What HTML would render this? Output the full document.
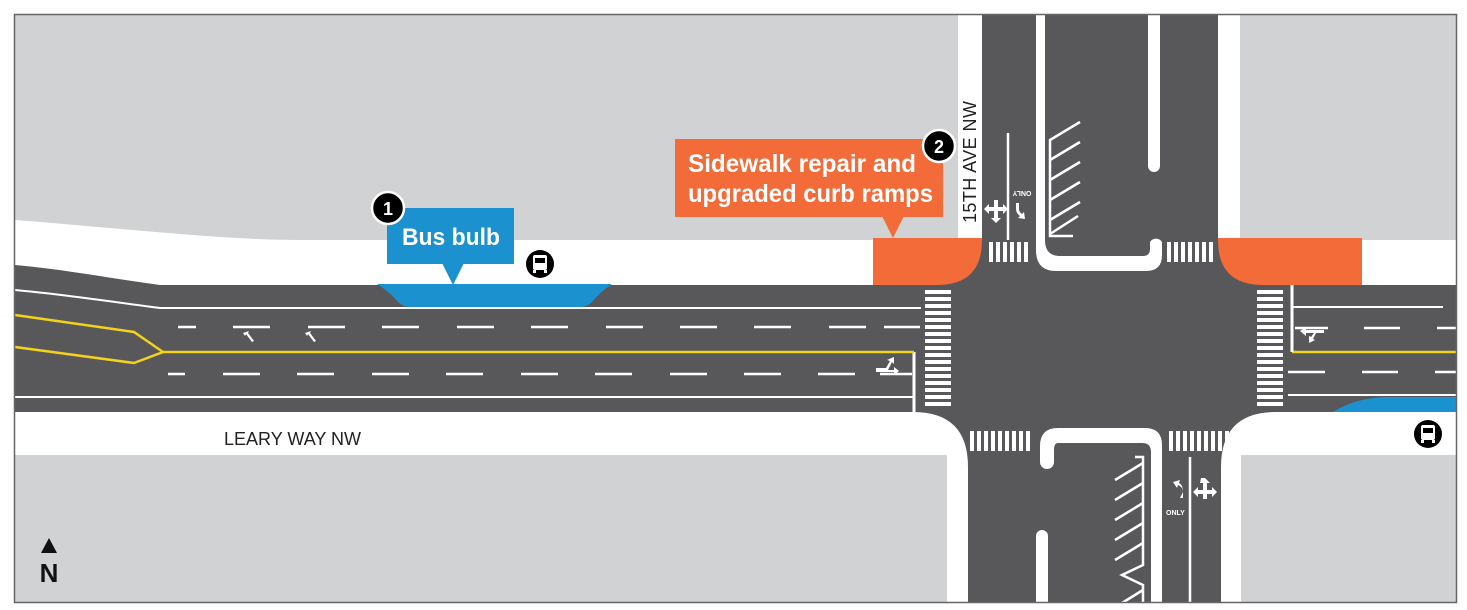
<!DOCTYPE html>
<html><head><meta charset="utf-8"><style>
html,body{margin:0;padding:0;background:#fff;width:1467px;height:610px;overflow:hidden}
svg{display:block}
text{font-family:"Liberation Sans",sans-serif}
</style></head><body>
<svg width="1467" height="610" viewBox="0 0 1467 610" xmlns="http://www.w3.org/2000/svg">
<rect x="0" y="0" width="1467" height="610" fill="#fff"/>
<rect x="15" y="14" width="1442" height="589" fill="#d1d2d3"/>
<rect x="15" y="240" width="1442" height="215" fill="#fff"/>
<rect x="947" y="14" width="294" height="589" fill="#fff"/>
<path d="M15,14 H958 V240 H300 C220,240 120,228 15,220 Z" fill="#d1d2d3"/>
<path d="M15,220 C120,228 220,240 300,240 H15 Z" fill="#fff"/>
<rect x="958" y="14" width="24" height="226" fill="#fff"/>
<rect x="1218" y="14" width="22" height="226" fill="#fff"/>
<rect x="1240" y="14" width="217" height="226" fill="#d1d2d3"/>
<path d="M15,455 H917 Q947,455 947,485 V603 H15 Z" fill="#d1d2d3"/>
<path d="M1457,455 H1271 Q1241,455 1241,485 V603 H1457 Z" fill="#d1d2d3"/>
<rect x="873" y="238" width="110" height="47" fill="#f26b38"/>
<rect x="1217" y="238" width="145" height="47" fill="#f26b38"/>
<path d="M15,265 C70,270 120,280 160,285 H937 Q982,285 982,240 V14 H1218 V240 Q1218,285 1263,285 H1457 V412 H1276 Q1221,412 1221,467 V603 H968 V467 Q968,412 913,412 H15 Z" fill="#58585a"/>
<path d="M377,284 H612 Q600,292 592,302 Q587,307 580,307 H410 Q403,307 398,302 Q390,292 377,284 Z" fill="#1c91d0"/>
<path d="M1333,412 Q1355,398 1385,397 H1457 V412 Z" fill="#1c91d0"/>
<g stroke="#fff" fill="none">
<path d="M15,290 C70,295 120,303 160,308 H921" stroke-width="2"/>
<line x1="15" y1="397" x2="914" y2="397" stroke-width="2"/>
<line x1="914" y1="352" x2="914" y2="412" stroke-width="3"/>
<path d="M178,327 H196 M233,327 H270 M308,327 H345 M382,327 H419 M457,327 H494 M531,327 H568 M606,327 H643 M680,327 H717 M754,327 H791 M829,327 H866 M884,327 H920" stroke-width="2.5"/>
<path d="M168,374 H185 M223,374 H260 M297,374 H334 M372,374 H409 M446,374 H483 M521,374 H558 M595,374 H632 M670,374 H707 M744,374 H781 M818,374 H855 M880,374 H912" stroke-width="2.5"/>
</g>
<g stroke="#f2d21b" fill="none" stroke-width="2.5">
<path d="M15,315 L134,332 L163,352 L134,363 L15,347"/>
<line x1="163" y1="352" x2="914" y2="352"/>
<line x1="1292" y1="352" x2="1457" y2="352"/>
</g>
<g fill="#fff">
<path d="M243,333 l6,-2 l-1,2 l6,8 l-2,1 l-6,-8 l-1,2 z"/>
<path d="M305,333 l6,-2 l-1,2 l6,8 l-2,1 l-6,-8 l-1,2 z"/>
<path d="M876,368 h10 l4,-7 l-3,-1 l7,-3 l0,7 l-2,-2 l-4,8 h6 v-3 l5,4 l-5,4 v-3 h-18 z"/>
</g>
<g stroke="#fff" fill="none">
<line x1="1292" y1="285" x2="1292" y2="352" stroke-width="3"/>
<line x1="1292" y1="307" x2="1443" y2="307" stroke-width="2"/>
<path d="M1295,328 H1328 M1364,328 H1400 M1437,328 H1457" stroke-width="2.5"/>
<path d="M1288,372 H1325 M1362,372 H1398 M1435,372 H1457" stroke-width="2.5"/>
<line x1="1288" y1="395" x2="1457" y2="395" stroke-width="2"/>
</g>
<path fill="#fff" d="M1300,331 l6,-4 v3 h18 v3 h-8 l-3,6 l2,1 l-6,3 l0,-7 l2,1 l3,-4 h-8 v3 z"/>
<g fill="#fff">
<g id="cwv">
<rect x="925" y="290" width="26" height="4"/><rect x="925" y="297" width="26" height="4"/><rect x="925" y="304" width="26" height="4"/><rect x="925" y="311" width="26" height="4"/><rect x="925" y="318" width="26" height="4"/><rect x="925" y="325" width="26" height="4"/><rect x="925" y="332" width="26" height="4"/><rect x="925" y="339" width="26" height="4"/><rect x="925" y="346" width="26" height="4"/><rect x="925" y="353" width="26" height="4"/><rect x="925" y="360" width="26" height="4"/><rect x="925" y="367" width="26" height="4"/><rect x="925" y="374" width="26" height="4"/><rect x="925" y="381" width="26" height="4"/><rect x="925" y="388" width="26" height="4"/><rect x="925" y="395" width="26" height="4"/><rect x="925" y="402" width="26" height="4"/>
</g>
<use href="#cwv" x="332"/>
<rect x="989" y="242" width="4" height="20"/><rect x="996" y="242" width="4" height="20"/><rect x="1003" y="242" width="4" height="20"/><rect x="1010" y="242" width="4" height="20"/><rect x="1017" y="242" width="4" height="20"/><rect x="1024" y="242" width="4" height="20"/>
<rect x="1167" y="242" width="4" height="20"/><rect x="1174" y="242" width="4" height="20"/><rect x="1181" y="242" width="4" height="20"/><rect x="1188" y="242" width="4" height="20"/><rect x="1195" y="242" width="4" height="20"/><rect x="1202" y="242" width="4" height="20"/><rect x="1209" y="242" width="4" height="20"/>
<rect x="970" y="431" width="4" height="20"/><rect x="977" y="431" width="4" height="20"/><rect x="984" y="431" width="4" height="20"/><rect x="991" y="431" width="4" height="20"/><rect x="998" y="431" width="4" height="20"/><rect x="1005" y="431" width="4" height="20"/><rect x="1012" y="431" width="4" height="20"/><rect x="1019" y="431" width="4" height="20"/><rect x="1026" y="431" width="4" height="20"/>
<rect x="1169" y="431" width="4" height="20"/><rect x="1176" y="431" width="4" height="20"/><rect x="1183" y="431" width="4" height="20"/><rect x="1190" y="431" width="4" height="20"/><rect x="1197" y="431" width="4" height="20"/><rect x="1204" y="431" width="4" height="20"/><rect x="1211" y="431" width="4" height="20"/><rect x="1218" y="431" width="4" height="20"/><rect x="1225" y="431" width="4" height="20"/><rect x="1232" y="431" width="4" height="20"/>
</g>
<g fill="#fff">
<path d="M1036,14 H1045 V240 Q1045,256 1060,256 H1143 Q1150,256 1150,249 V242 A7,7 0 0 1 1162,242 V255 Q1162,271 1146,271 H1056 Q1036,271 1036,250 Z"/>
<path d="M1148,14 H1160 V166 A6,6 0 0 1 1148,166 Z"/>
<path d="M1058,428 H1145 Q1162,428 1162,445 V603 H1151 V452 Q1151,443 1142,443 H1058 Q1054,443 1054,450 V462 A7,7 0 0 1 1040,462 V446 Q1040,428 1058,428 Z"/>
<path d="M1036,603 V536 A6,6 0 0 1 1048,536 V603 Z"/>
</g>
<g stroke="#fff" fill="none" stroke-width="2.5">
<line x1="1008" y1="133" x2="1008" y2="240"/>
<path d="M1080,122 L1050,140 V236 H1073"/>
<path d="M1050,160 L1080,142 M1050,180 L1080,162 M1050,200 L1080,182 M1050,220 L1080,202 M1050,234 L1078,216"/>
<line x1="1190" y1="457" x2="1190" y2="603"/>
<path d="M1135,457 H1143 V565 L1122,575 L1143,585 V603"/>
<path d="M1143,463 L1115,480 M1143,483 L1115,500 M1143,503 L1115,520 M1143,523 L1115,540 M1143,543 L1115,560 M1143,590 L1122,603"/>
</g>
<g fill="#fff">
<path d="M994,200 h4 v7 h5 v-3 l5,5 l-5,5 v-3 h-5 v7 h3 l-5,5 l-5,-5 h3 v-7 h-5 v3 l-5,-5 l5,-5 v3 h5 v-7 z"/>
<path d="M1016,203 h3 v6 q0,3 3,5 l2,-2 l1,7 l-7,-1 l2,-2 q-4,-3 -4,-7 z"/>
<path d="M1201,478 h4 l5,5 h-3 v7 h5 v-3 l5,5 l-5,5 v-3 h-5 v5 h-4 v-5 h-5 v3 l-5,-5 l5,-5 v3 h5 v-7 h-3 z"/>
<path d="M1180,498 h3 v-6 q0,-5 -5,-7 l-1,3 l-4,-6 l7,-2 l-1,3 q4,2 4,9 z"/>
</g>
<text x="1022" y="197" font-size="7" fill="#fff" font-weight="bold" text-anchor="middle" transform="rotate(180 1022 194)">ONLY</text>
<text x="1166" y="515" font-size="7" fill="#fff" font-weight="bold">ONLY</text>
<text x="224" y="445" font-size="18" fill="#222">LEARY WAY NW</text>
<text x="0" y="0" font-size="18" fill="#222" transform="translate(976,223) rotate(-90)" textLength="122">15TH AVE NW</text>
<rect x="387" y="208" width="127" height="56" fill="#1c91d0"/>
<path d="M442,263 L464,263 L453,285 Z" fill="#1c91d0"/>
<text x="402" y="245" font-size="24" font-weight="bold" fill="#fff" textLength="98" lengthAdjust="spacingAndGlyphs">Bus bulb</text>
<circle cx="388" cy="208" r="16" fill="#000" stroke="#fff" stroke-width="2.5"/>
<text x="388" y="215" font-size="18" font-weight="bold" fill="#fff" text-anchor="middle">1</text>
<rect x="675" y="139" width="268" height="78" fill="#f26b38"/>
<path d="M882,216 L904,216 L893,238 Z" fill="#f26b38"/>
<text x="688" y="172" font-size="25" font-weight="bold" fill="#fff" textLength="228" lengthAdjust="spacingAndGlyphs">Sidewalk repair and</text>
<text x="688" y="202" font-size="25" font-weight="bold" fill="#fff" textLength="245" lengthAdjust="spacingAndGlyphs">upgraded curb ramps</text>
<circle cx="939" cy="146" r="16" fill="#000" stroke="#fff" stroke-width="2.5"/>
<text x="939" y="153" font-size="18" font-weight="bold" fill="#fff" text-anchor="middle">2</text>
<g id="bus">
<circle cx="540" cy="264" r="14" fill="#000"/>
<rect x="533" y="255" width="14" height="15" rx="2" fill="#fff"/>
<rect x="535" y="258" width="10" height="5" fill="#000"/>
<rect x="533" y="270" width="3" height="3" fill="#fff"/><rect x="544" y="270" width="3" height="3" fill="#fff"/>
</g>
<use href="#bus" x="888" y="170"/>
<path d="M41,553 L49,538 L57,553 Z" fill="#111"/>
<text x="49" y="582" font-size="26" font-weight="bold" fill="#111" text-anchor="middle">N</text>
<rect x="14.5" y="14.5" width="1442" height="588" fill="none" stroke="#666" stroke-width="1.5"/>
</svg>
</body></html>
